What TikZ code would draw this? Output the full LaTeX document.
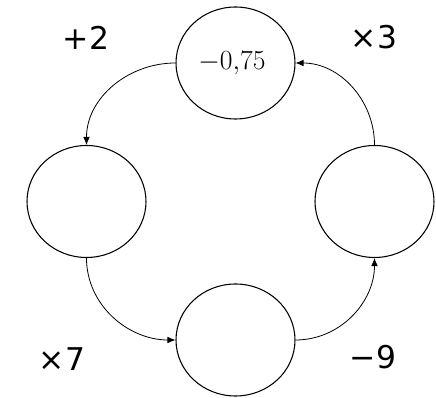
\documentclass[tikz,border=0pt]{standalone}
\usepackage{fontspec}
\newfontfamily\labfont{DejaVu Sans}
\usetikzlibrary{shapes.geometric,arrows.meta}
\begin{document}
\begin{tikzpicture}[x=0.75pt,y=-0.75pt,
  circ/.style={draw, line width=0.8pt, ellipse, minimum width=89.25pt, minimum height=84pt, inner sep=0pt},
  arr/.style={line width=0.6pt, -{Latex[length=6pt,width=5pt]}},
  lab/.style={font=\labfont\fontsize{23.5}{28}\selectfont, inner sep=0pt}]
\useasboundingbox (0,0) rectangle (436,398);
\node[circ] (top) at (235.5,63) {};
\node[font=\fontsize{21.5}{26}\selectfont, inner sep=0pt] (val) at (232,63) {$-0{,}75$};
\node[circ] (left) at (86.5,201.5) {};
\node[circ] (right) at (374.5,201.5) {};
\node[circ] (bottom) at (235.5,340) {};
\draw[arr] (top.west) to[out=180,in=90] (left.north);
\draw[arr] (left.south) to[out=-90,in=180] (bottom.west);
\draw[arr] (bottom.east) to[out=0,in=-90] (right.south);
\draw[arr] (right.north) to[out=90,in=0] (top.east);
\node[lab] (l1) at (86,38) {+2};
\node[lab] (l2) at (374,37) {×3};
\node[lab] (l3) at (62,359) {×7};
\node[lab] (l4) at (373,357) {−9};
\end{tikzpicture}
\end{document}
